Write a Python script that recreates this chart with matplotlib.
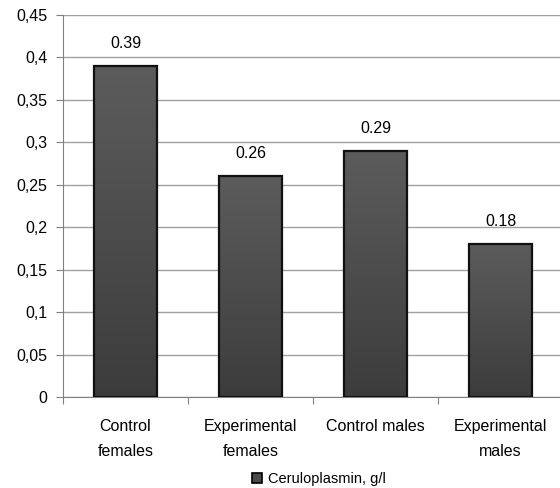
import matplotlib
matplotlib.use("Agg")
import matplotlib.pyplot as plt
import numpy as np
from matplotlib.patches import Patch
from matplotlib.colors import LinearSegmentedColormap

categories = ["Control\nfemales", "Experimental\nfemales", "Control males", "Experimental\nmales"]
values = [0.39, 0.26, 0.29, 0.18]
value_labels = ["0.39", "0.26", "0.29", "0.18"]
yticks = [0, 0.05, 0.1, 0.15, 0.2, 0.25, 0.3, 0.35, 0.4, 0.45]
ytick_labels = ["0", "0,05", "0,1", "0,15", "0,2", "0,25", "0,3", "0,35", "0,4", "0,45"]
series_name = "Ceruloplasmin, g/l"

plt.rcParams['font.family'] = ['Liberation Sans', 'DejaVu Sans']

fig = plt.figure(figsize=(5.6, 4.88), dpi=100)
ax = fig.add_axes([63/560, (488-397)/488, 500/560, 382/488])

x = np.arange(len(categories))
bars = ax.bar(x, values, width=0.5, facecolor='none', edgecolor='#111111', linewidth=1.6, zorder=3)

cmap = LinearSegmentedColormap.from_list("g", ["#3c3c3c", "#5c5c5c"])
grad = np.linspace(0, 1, 256).reshape(-1, 1)
for b in bars:
    x0, y0 = b.get_x(), b.get_y()
    w, h = b.get_width(), b.get_height()
    ax.imshow(grad, cmap=cmap, origin='lower', aspect='auto',
              extent=[x0, x0 + w, y0, y0 + h], zorder=2)

for xi, v, lab in zip(x, values, value_labels):
    ax.text(xi, v + 0.018, lab, ha='center', va='bottom', fontsize=11.5, color='#000000')

ax.set_xlim(-0.5, 3.5)
ax.set_ylim(0, 0.45)
ax.set_yticks(yticks)
ax.set_yticklabels(ytick_labels, fontsize=11.5)
ax.yaxis.grid(True, color='#a0a0a0', linewidth=1.0)
ax.set_axisbelow(True)

ax.set_xticks(np.arange(-0.5, 4.0, 1.0))
ax.set_xticklabels([])
ax.set_xticks(x, minor=True)
ax.set_xticklabels(categories, minor=True, fontsize=11.5, linespacing=1.85)
ax.tick_params(axis='x', which='minor', length=0, pad=16)
ax.tick_params(axis='x', which='major', length=5, color='#808080', direction='out')
ax.tick_params(axis='y', length=5, color='#808080', direction='out', pad=6)

for s in ['top', 'right']:
    ax.spines[s].set_visible(False)
ax.spines['left'].set_color('#808080')
ax.spines['bottom'].set_color('#808080')

handle = Patch(facecolor='#4a4a4a', edgecolor='#000000', linewidth=1.2)
fig.legend([handle], [series_name], loc='center', bbox_to_anchor=(0.57, 0.019),
           frameon=False, fontsize=10.5, handlelength=0.7, handleheight=0.7,
           handletextpad=0.4, borderaxespad=0)

fig.savefig("out.png", dpi=100)
